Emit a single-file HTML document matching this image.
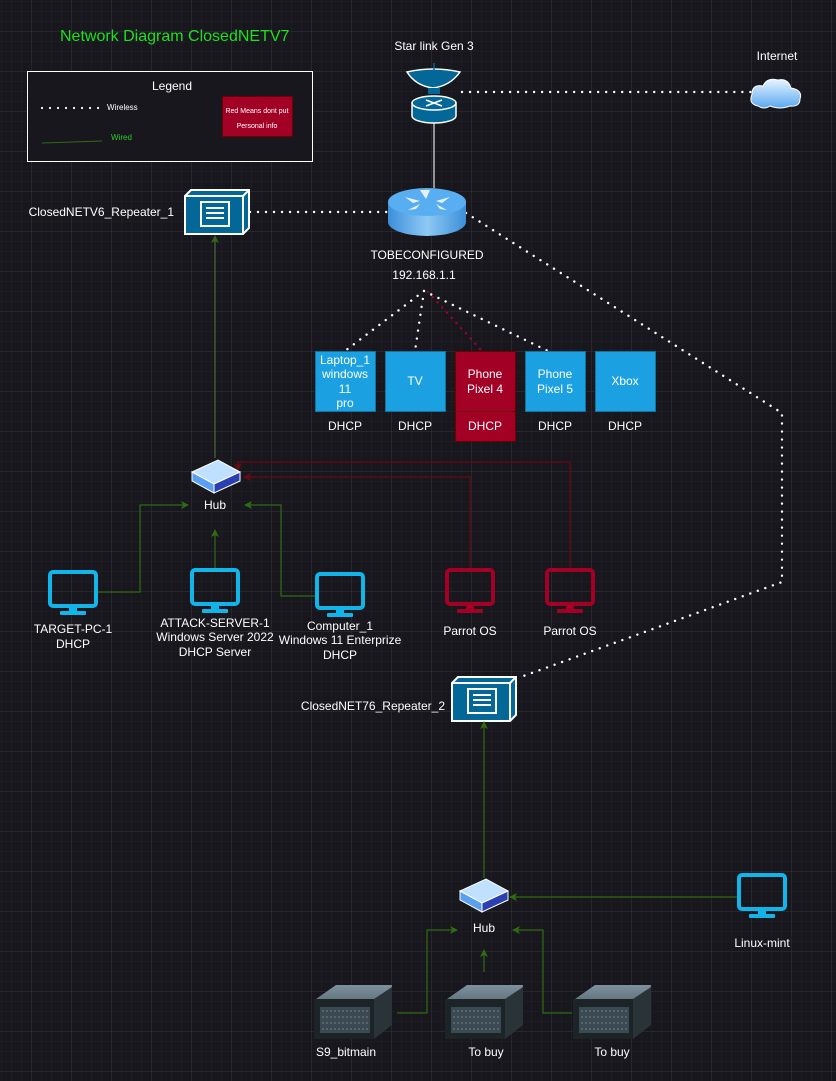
<!DOCTYPE html>
<html><head><meta charset="utf-8"><style>
html,body{margin:0;padding:0;background:#18171e;}
svg{display:block;font-family:"Liberation Sans",sans-serif;}
text{fill:#fff;font-size:12px;}
</style></head><body>
<svg width="836" height="1081" viewBox="0 0 836 1081" xmlns="http://www.w3.org/2000/svg">
<defs>
<pattern id="minor" width="10" height="10" patternUnits="userSpaceOnUse" x="2" y="2">
<path d="M10 0V10M0 10H10" fill="none" stroke="#212027" stroke-width="1"/></pattern>
<pattern id="major" width="40" height="40" patternUnits="userSpaceOnUse" x="-8" y="-8">
<path d="M40 0V40M0 40H40" fill="none" stroke="#35343b" stroke-width="1"/></pattern>
<linearGradient id="rt" x1="0" x2="1"><stop offset="0" stop-color="#3b8fd8"/><stop offset="0.5" stop-color="#8fc9f5"/><stop offset="1" stop-color="#3b8fd8"/></linearGradient>
<linearGradient id="cl" x1="0" y1="0" x2="0" y2="1"><stop offset="0" stop-color="#e8f4ff"/><stop offset="1" stop-color="#5aa8f0"/></linearGradient>
<linearGradient id="sv" x1="0" y1="0" x2="0" y2="1"><stop offset="0" stop-color="#7d929e"/><stop offset="1" stop-color="#2a3338"/></linearGradient>
<marker id="ag" markerWidth="8" markerHeight="8" refX="7" refY="4" orient="auto" markerUnits="userSpaceOnUse"><path d="M0 0L8 4L0 8L2 4Z" fill="#2f6b10"/></marker>
<marker id="ar" markerWidth="8" markerHeight="8" refX="7" refY="4" orient="auto" markerUnits="userSpaceOnUse"><path d="M0 0L8 4L0 8L2 4Z" fill="#6b0a12"/></marker>
<g id="mon"><rect x="2" y="2" width="46" height="34" rx="3" fill="none" stroke="currentColor" stroke-width="4"/><rect x="21" y="36" width="8" height="6" fill="currentColor"/><rect x="12" y="41" width="26" height="4" rx="1" fill="currentColor"/></g>
<g id="hub"><path d="M0 12L26 0L48 12L22 24Z" fill="#bfe0ff" stroke="#fff" stroke-width="1"/><path d="M0 12L22 24L22 33L0 21Z" fill="#5aa0f0" stroke="#fff" stroke-width="1"/><path d="M22 24L48 12L48 21L22 33Z" fill="#2a3fb0" stroke="#fff" stroke-width="1"/></g>
<g id="rep"><path d="M0 6L6 0H64V38L58 44H0Z" fill="#036897" stroke="#fff" stroke-width="2"/><path d="M0 6H58V44M58 6L64 0" fill="none" stroke="#fff" stroke-width="2"/><rect x="16" y="12" width="28" height="24" fill="none" stroke="#fff" stroke-width="2"/><path d="M21 18H39M21 23H39M21 28H39" stroke="#fff" stroke-width="2"/></g>
<g id="srv"><path d="M4 14L24 0H80L78 16L62 50H4Z" fill="url(#sv)"/><path d="M2 14H62V54H2Z" fill="#1d2428"/><path d="M62 14L80 2V40L62 54Z" fill="#2a3338"/><path d="M8 22H58V48H8Z" fill="#3b4a52"/><path d="M10 26H56M10 32H56M10 38H56M10 44H56" stroke="#6d808a" stroke-width="1" stroke-dasharray="2 2"/></g>
</defs>
<rect width="836" height="1081" fill="url(#minor)"/>
<rect width="836" height="1081" fill="url(#major)"/>

<text x="60" y="41" style="font-size:16px;fill:#1ee01e">Network Diagram ClosedNETV7</text>
<rect x="27.5" y="71.5" width="285" height="90" fill="#18171e" stroke="#fff" stroke-width="1"/>
<text x="172" y="90" text-anchor="middle">Legend</text>
<line x1="42" y1="108" x2="100" y2="108" stroke="#fff" stroke-width="2.2" stroke-dasharray="0.01 8" stroke-linecap="round"/>
<text x="107" y="110" style="font-size:8px">Wireless</text>
<line x1="42" y1="143" x2="102" y2="141" stroke="#2f6b10" stroke-width="1"/>
<text x="111" y="140" style="font-size:8px;fill:#22cc22">Wired</text>
<rect x="222.5" y="96.5" width="70" height="40" fill="#a20025" stroke="#6f0000"/>
<text x="257" y="113" text-anchor="middle" style="font-size:7px">Red Means dont put</text>
<text x="257" y="128" text-anchor="middle" style="font-size:7px">Personal info</text>

<text x="434" y="50" text-anchor="middle">Star link Gen 3</text>
<text x="777" y="60" text-anchor="middle">Internet</text>
<g stroke="#fff" stroke-width="2.4" stroke-dasharray="0.01 8" stroke-linecap="round" fill="none">
<line x1="462" y1="92" x2="752" y2="92"/>
<line x1="250" y1="212" x2="388" y2="212"/>
<path d="M466 213L782 413V582L518 678"/>
<path d="M424 291L345 351M424 291L415 351M424 291L548 351"/>
</g>
<path d="M428 292L482 351" stroke="#a20025" stroke-width="2.4" stroke-dasharray="0.01 7" stroke-linecap="round"/>
<line x1="434" y1="123" x2="434" y2="188" stroke="#bbb" stroke-width="1.5"/>

<path d="M407 72Q433 66 460 72Q450 86 433 88Q416 86 407 72Z" fill="#036897" stroke="#fff" stroke-width="1.5"/>
<line x1="434" y1="63" x2="434" y2="72" stroke="#036897" stroke-width="1.5"/>
<rect x="428" y="88" width="12" height="6" fill="#036897"/>
<path d="M412 103V116A22 7 0 0 0 456 116V103Z" fill="#036897" stroke="#fff" stroke-width="1.5"/>
<ellipse cx="434" cy="103" rx="22" ry="7" fill="#036897" stroke="#fff" stroke-width="1.5"/>
<path d="M426 100L442 106M442 100L426 106" stroke="#fff" stroke-width="1.5"/>
<path d="M758 106Q748 104 752 94Q752 84 763 86Q767 77 778 80Q788 78 791 88Q803 90 800 99Q800 107 790 106Q780 110 770 106Q764 110 758 106Z" fill="url(#cl)" stroke="#fff" stroke-width="1"/>
<path d="M388 202V222A39 14 0 0 0 466 222V202Z" fill="url(#rt)"/>
<ellipse cx="427" cy="202" rx="39" ry="14" fill="#58aef0"/>
<path d="M405 197L420 201L413 203ZM450 197L436 201L442 203ZM408 210L420 204L416 209ZM447 210L436 204L440 209Z M420 190L426 199L430 190Z" fill="#e8f2ff"/>
<text x="427" y="259" text-anchor="middle">TOBECONFIGURED</text>
<text x="424" y="279" text-anchor="middle">192.168.1.1</text>

<use href="#rep" x="185" y="190"/>
<text x="174" y="216" text-anchor="end">ClosedNETV6_Repeater_1</text>

<g stroke="#10739e" stroke-width="1" fill="#1ba1e2">
<rect x="315.5" y="351.5" width="60" height="60"/>
<rect x="385.5" y="351.5" width="60" height="60"/>
<rect x="525.5" y="351.5" width="60" height="60"/>
<rect x="595.5" y="351.5" width="60" height="60"/>
</g>
<rect x="455.5" y="351.5" width="60" height="60" fill="#a20025" stroke="#6f0000"/>
<rect x="455.5" y="411.5" width="60" height="30" fill="#a20025" stroke="#6f0000"/>
<g text-anchor="middle">
<text x="345" y="364">Laptop_1</text><text x="345" y="378">windows</text><text x="345" y="393">11</text><text x="345" y="407">pro</text>
<text x="415" y="385">TV</text>
<text x="485" y="378">Phone</text><text x="485" y="393">Pixel 4</text>
<text x="555" y="378">Phone</text><text x="555" y="393">Pixel 5</text>
<text x="625" y="385">Xbox</text>
<text x="345" y="430">DHCP</text><text x="415" y="430">DHCP</text><text x="485" y="430">DHCP</text><text x="555" y="430">DHCP</text><text x="625" y="430">DHCP</text>
</g>

<line x1="215" y1="458" x2="215" y2="236" stroke="#4a6b3a" stroke-width="1.2" marker-end="url(#ag)"/>
<g stroke="#2f6b10" stroke-width="1.2" fill="none">
<path d="M98 592H140V505H188" marker-end="url(#ag)"/>
<path d="M215 568V530" marker-end="url(#ag)"/>
<path d="M315 596H281V505H245" marker-end="url(#ag)"/>
</g>
<g stroke="#6b0a12" stroke-width="1.2" fill="none">
<path d="M470 568V477H244" marker-end="url(#ar)"/>
<path d="M570 568V462H238V470" marker-end="url(#ar)"/>
</g>
<use href="#hub" x="192" y="460"/>
<text x="215" y="509" text-anchor="middle">Hub</text>

<use href="#mon" x="48" y="570" style="color:#12b5ea"/>
<use href="#mon" x="190" y="568" style="color:#12b5ea"/>
<use href="#mon" x="315" y="572" style="color:#12b5ea"/>
<use href="#mon" x="445" y="568" style="color:#a20025"/>
<use href="#mon" x="545" y="568" style="color:#a20025"/>
<g text-anchor="middle">
<text x="73" y="633">TARGET-PC-1</text><text x="73" y="648">DHCP</text>
<text x="215" y="627">ATTACK-SERVER-1</text><text x="215" y="641">Windows Server 2022</text><text x="215" y="656">DHCP Server</text>
<text x="340" y="630">Computer_1</text><text x="340" y="644">Windows 11 Enterprize</text><text x="340" y="659">DHCP</text>
<text x="470" y="635">Parrot OS</text><text x="570" y="635">Parrot OS</text>
</g>

<use href="#rep" x="452" y="677"/>
<text x="445" y="710" text-anchor="end">ClosedNET76_Repeater_2</text>

<g stroke="#2f6b10" stroke-width="1.2" fill="none">
<path d="M484 878V722" marker-end="url(#ag)"/>
<path d="M737 897H510" marker-end="url(#ag)"/>
<path d="M397 1013H427V930H457" marker-end="url(#ag)"/>
<path d="M484 972V950" marker-end="url(#ag)"/>
<path d="M572 1013H543V930H513" marker-end="url(#ag)"/>
</g>
<use href="#hub" x="460" y="879"/>
<text x="484" y="932" text-anchor="middle">Hub</text>
<use href="#mon" x="737" y="873" style="color:#12b5ea"/>
<text x="762" y="947" text-anchor="middle">Linux-mint</text>
<use href="#srv" x="312" y="985"/>
<use href="#srv" x="443" y="985"/>
<use href="#srv" x="571" y="985"/>
<g text-anchor="middle">
<text x="346" y="1056">S9_bitmain</text><text x="486" y="1056">To buy</text><text x="612" y="1056">To buy</text>
</g>
</svg>
</body></html>
